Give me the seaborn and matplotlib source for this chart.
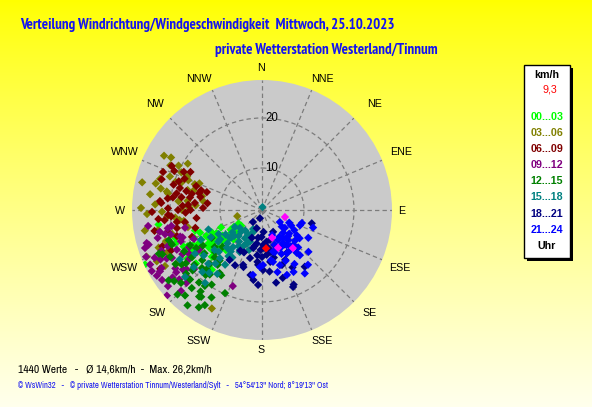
import numpy as np
import pandas as pd
import seaborn as sns
import matplotlib.pyplot as plt
from matplotlib.patches import Rectangle

# wind direction (deg, from N clockwise) and speed (km/h) per 3 h block
dir_00_03 = [228, 232, 236, 240, 244, 226, 230, 234, 238, 242, 246, 250, 224, 229, 235, 241, 247, 253,
             231, 237, 243, 249, 222, 227, 233, 239, 245, 245, 236, 240, 220, 252, 262, 234, 231,
             233, 237, 241, 229, 245, 239, 235, 227, 243, 248, 232, 238, 244, 236, 230]
spd_00_03 = [8.5, 10.2, 12.0, 13.5, 15.1, 7.4, 9.1, 11.3, 14.2, 16.0, 12.6, 14.8, 9.8, 13.0, 16.5, 17.8, 10.5, 15.6,
             18.6, 19.4, 11.8, 20.2, 12.4, 15.3, 6.8, 8.2, 18.9, 27.4, 21.0, 7.0, 17.2, 19.8, 22.5, 13.8, 10.9,
             9.6, 11.0, 12.2, 10.6, 13.9, 15.8, 14.6, 12.9, 17.0, 16.3, 11.7, 9.0, 18.2, 13.2, 14.4]

dir_03_06 = [300, 302, 296, 284, 269, 280, 292, 288, 276, 272, 298, 286, 282, 294, 278, 265, 259, 250,
             244, 262, 290, 274, 268, 255, 248, 240, 257, 279, 285, 293, 207, 256, 238, 271, 283,
             289, 281, 277, 295, 273, 266, 260, 252, 287, 283, 299, 291, 263, 270, 246]
spd_03_06 = [22.6, 19.1, 22.0, 23.5, 21.6, 20.7, 17.5, 19.8, 18.4, 16.2, 20.5, 15.8, 22.3, 18.0, 24.2, 19.0, 22.8, 23.6,
             25.0, 17.4, 21.2, 14.9, 24.6, 20.2, 26.5, 24.0, 16.8, 13.6, 17.0, 15.2, 23.7, 6.7, 21.4, 25.8, 26.2,
             18.6, 21.0, 16.6, 19.4, 23.0, 20.6, 25.4, 21.8, 22.9, 13.9, 24.0, 16.0, 18.2, 17.6, 22.4]

dir_06_09 = [292, 288, 267, 271, 280, 272, 276, 270, 257, 240, 249, 296, 284, 278, 262, 265, 290, 274,
             282, 268, 286, 259, 253, 298, 277, 263, 287, 273, 281, 246, 255, 269, 294, 285, 275,
             279, 283, 289, 266, 261, 274, 291, 285, 270, 277, 258, 250, 296, 288, 264]
spd_06_09 = [18.3, 13.2, 20.4, 20.4, 16.2, 13.4, 15.1, 18.4, 20.9, 25.1, 16.6, 21.7, 17.2, 19.6, 18.8, 22.4, 15.6, 21.8,
             14.2, 16.9, 20.0, 23.5, 19.4, 17.8, 12.6, 14.8, 22.6, 17.5, 19.0, 21.5, 15.4, 23.6, 20.8, 14.6, 22.1,
             17.9, 16.0, 19.2, 19.8, 17.2, 16.4, 22.8, 18.6, 15.9, 20.6, 19.0, 22.8, 19.0, 14.4, 21.2]

dir_09_12 = [258, 255, 257, 252, 238, 228, 246, 236, 244, 227, 201, 248, 241, 233, 250, 262, 239, 230,
             245, 253, 235, 242, 249, 225, 232, 247, 256, 240, 237, 251, 229, 243, 254, 234, 260,
             246, 239, 231, 255, 249, 243, 236, 226, 252, 241, 233, 259, 244, 238, 248]
spd_09_12 = [22.5, 20.5, 17.4, 26.2, 26.4, 27.2, 25.1, 22.5, 26.5, 21.7, 17.9, 23.3, 19.8, 24.0, 21.0, 24.6, 18.6, 23.2,
             20.4, 25.3, 26.0, 22.0, 19.0, 24.5, 20.8, 16.4, 21.6, 24.8, 17.2, 18.4, 19.6, 23.0, 25.6, 22.8, 20.0,
             23.6, 25.4, 25.8, 23.2, 21.8, 18.0, 19.2, 22.6, 18.8, 26.8, 21.4, 20.8, 24.2, 16.2, 26.6]

dir_12_15 = [225, 218, 213, 241, 249, 214, 226, 236, 219, 204, 230, 222, 233, 244, 216, 228, 238, 210,
             221, 231, 246, 224, 235, 217, 227, 242, 212, 232, 252, 220, 229, 239, 215, 223, 247,
             226, 231, 219, 236, 222, 214, 240, 228, 217, 233, 211, 225, 243, 230, 221]
spd_12_15 = [25.5, 25.8, 24.8, 13.1, 20.9, 19.6, 18.3, 18.5, 15.7, 19.8, 21.4, 22.6, 16.0, 17.6, 23.0, 14.2, 22.0, 21.8,
             18.8, 24.2, 23.4, 16.6, 20.2, 20.6, 12.4, 19.2, 17.0, 13.6, 21.2, 14.8, 20.0, 15.4, 22.8, 17.8, 24.0,
             21.6, 19.0, 18.2, 21.0, 24.6, 16.8, 16.8, 23.4, 22.0, 25.0, 23.8, 15.0, 22.2, 17.2, 20.8]

dir_15_18 = [10, 231, 201, 229, 218, 218, 204, 238, 202, 211, 223, 208, 220, 239, 229, 209, 226, 234,
             214, 244, 216, 232, 205, 224, 236, 212, 250, 221, 227, 215, 241, 230, 198, 225, 219,
             222, 228, 233, 213, 217, 226, 207, 235, 221, 242, 224, 210, 230, 237, 216]
spd_15_18 = [2.2, 7.3, 8.4, 10.1, 20.1, 11.0, 8.9, 8.0, 6.4, 8.2, 11.9, 11.1, 18.0, 20.8, 22.0, 10.7, 13.6, 12.4,
             14.8, 15.2, 9.4, 16.4, 5.8, 7.6, 10.4, 12.8, 13.0, 15.8, 9.2, 17.2, 11.5, 14.0, 10.0, 16.8, 6.9,
             8.6, 9.8, 9.0, 10.2, 12.0, 11.2, 9.6, 11.8, 14.4, 13.2, 18.8, 7.2, 19.4, 17.6, 13.0]

dir_18_21 = [175, 217, 160, 143, 157, 190, 206, 105, 194, 186, 171, 194, 199, 150, 178, 200, 153, 187,
             158, 163, 198, 213, 182, 168, 180, 192, 165, 173, 184, 208, 147, 176, 188, 170, 196,
             177, 181, 166, 172, 189, 161, 155, 185, 174, 179, 193, 169, 203, 152, 183]
spd_18_21 = [8.6, 4.6, 13.3, 15.8, 17.8, 14.8, 13.9, 11.9, 3.3, 10.7, 12.1, 11.5, 13.2, 11.5, 8.6, 7.5, 6.5, 15.7,
             18.2, 15.8, 13.6, 13.5, 9.6, 10.2, 11.0, 9.0, 7.8, 14.0, 12.6, 10.8, 9.8, 6.0, 7.2, 9.4, 5.4,
             9.2, 7.0, 11.4, 8.0, 8.4, 9.0, 12.6, 12.0, 10.6, 13.6, 9.4, 16.4, 10.8, 14.6, 16.6]

dir_21_24 = [143, 112, 165, 179, 132, 159, 108, 121, 126, 128, 145, 140, 153, 166, 158, 124, 140, 182,
             188, 146, 109, 163, 135, 150, 118, 138, 155, 130, 148, 170, 115, 136, 152, 160, 142,
             139, 144, 133, 147, 127, 151, 156, 137, 141, 162, 131, 149, 122, 154, 168]
spd_21_24 = [8.6, 9.8, 10.2, 12.6, 14.1, 15.5, 10.0, 12.4, 10.2, 7.4, 10.2, 13.4, 15.5, 14.4, 7.0, 5.9, 15.9, 13.0,
             14.7, 16.9, 12.4, 10.4, 9.0, 11.6, 8.2, 11.0, 12.8, 6.8, 9.4, 11.8, 7.6, 12.0, 8.4, 9.0, 10.8,
             9.6, 11.4, 10.6, 8.0, 11.0, 9.8, 11.2, 7.8, 12.6, 13.2, 8.8, 14.2, 9.2, 10.0, 12.2]

dir_last = [107, 160, 157, 141]
spd_last = [6.4, 7.5, 9.8, 11.4]
dir_now, spd_now = 174, 9.3

periods = ['00...03', '03...06', '06...09', '09...12', '12...15', '15...18', '18...21', '21...24']
period_colors = ['#00ff00', '#808000', '#800000', '#800080', '#008000', '#008080', '#000080', '#0000ff']
compass = ['N', 'NNE', 'NE', 'ENE', 'E', 'ESE', 'SE', 'SSE',
           'S', 'SSW', 'SW', 'WSW', 'W', 'WNW', 'NW', 'NNW']

groups = [(dir_00_03, spd_00_03), (dir_03_06, spd_03_06), (dir_06_09, spd_06_09), (dir_09_12, spd_09_12),
          (dir_12_15, spd_12_15), (dir_15_18, spd_15_18), (dir_18_21, spd_18_21), (dir_21_24, spd_21_24),
          (dir_last, spd_last), ([dir_now], [spd_now])]
names = periods + ['last', 'now']
colors = period_colors + ['#ff00ff', '#ff0000']

df = pd.concat([pd.DataFrame({'theta': np.deg2rad(d), 'speed': s, 'period': n})
                for (d, s), n in zip(groups, names)], ignore_index=True)

W, H = 592, 407
fx = lambda px: px / W
fy = lambda py: 1 - py / H

NARROW_BOLD = ['PT Sans Narrow', 'Roboto Condensed', 'Liberation Sans', 'DejaVu Sans']
NARROW = ['Archivo Narrow', 'Liberation Sans', 'DejaVu Sans']
SANS = ['Liberation Sans', 'DejaVu Sans']
plt.rcParams['font.family'] = SANS

fig = plt.figure(figsize=(W / 100, H / 100), dpi=100)

# yellow gradient background
bg = fig.add_axes([0, 0, 1, 1], zorder=-10)
t = np.linspace(0, 1, 256)
grad = np.dstack([np.ones(256), np.ones(256), 0.93 * t ** 0.85]).reshape(256, 1, 3)
bg.imshow(grad, aspect='auto', extent=[0, 1, 0, 1], origin='upper')
bg.axis('off')

ax = fig.add_axes([fx(132), fy(340), 260 / W, 260 / H], projection='polar')
ax.set_theta_zero_location('N')
ax.set_theta_direction(-1)
ax.set_facecolor('#cacaca')
ax.spines['polar'].set_visible(False)
ax.set_axisbelow(True)

sns.scatterplot(data=df, x='theta', y='speed', hue='period', palette=dict(zip(names, colors)),
                marker='D', s=18, linewidth=0, legend=False, ax=ax)

ax.set_ylim(1.6, 27.6)
ax.set_xticks(np.deg2rad(np.arange(16) * 22.5))
ax.set_xticklabels([])
ax.set_yticks([10, 20])
ax.set_yticklabels([])
ax.grid(True, color='#7c7c7c', linestyle=(0, (3.5, 2.5)), linewidth=0.9)
ax.set_xlabel('')
ax.set_ylabel('')
for v in [10, 20]:
    ax.annotate(str(v), xy=(0, v), xytext=(2.5, 0), textcoords='offset points',
                ha='left', va='center', fontsize=8.3)

# compass names outside the disc, centre of each label in picture pixels
label_xy = [(261, 68), (322, 79), (375, 104), (401, 152), (402, 211), (400, 268), (370, 313), (322, 341),
            (261, 350), (199, 341), (157, 313), (125, 268), (120, 211), (125, 152), (155, 104), (199, 79)]
for name, (px, py) in zip(compass, label_xy):
    fig.text(fx(px), fy(py), name, ha='center', va='center', fontsize=7.7)

blue = '#1414f0'
fig.text(fx(20), fy(25), 'Verteilung Windrichtung/Windgeschwindigkeit  Mittwoch, 25.10.2023',
         color=blue, fontsize=10.8, fontweight='bold', family=NARROW_BOLD, ha='left', va='center')
fig.text(fx(215), fy(50), 'private Wetterstation Westerland/Tinnum',
         color=blue, fontsize=10.8, fontweight='bold', family=NARROW_BOLD, ha='left', va='center')
fig.text(fx(18), fy(369), '1440 Werte   -   Ø 14,6km/h  -  Max. 26,2km/h',
         color='black', fontsize=8.3, family=NARROW, ha='left', va='center')
fig.text(fx(18), fy(386), "© WsWin32   -   © private Wetterstation Tinnum/Westerland/Sylt   -   "
         "54°54'13'' Nord; 8°19'13'' Ost",
         color=blue, fontsize=6.2, family=NARROW, ha='left', va='center')

# legend box with shadow
fig.add_artist(Rectangle((fx(527), fy(261)), 46 / W, 193 / H, transform=fig.transFigure,
                         facecolor='black', edgecolor='none'))
fig.add_artist(Rectangle((fx(524), fy(258)), 46 / W, 193 / H, transform=fig.transFigure,
                         facecolor='white', edgecolor='black', linewidth=1))
fig.text(fx(547), fy(75), 'km/h', fontsize=7.7, fontweight='bold', ha='center', va='center')
fig.text(fx(550), fy(90), '9,3', fontsize=7.7, color='#ff0000', ha='center', va='center')
for i, (lab, col) in enumerate(zip(periods, period_colors)):
    fig.text(fx(547), fy(117 + i * 16.1), lab, fontsize=7.7, fontweight='bold', color=col,
             ha='center', va='center')
fig.text(fx(547), fy(246), 'Uhr', fontsize=7.7, fontweight='bold', ha='center', va='center')

fig.savefig('out.png', dpi=100)
